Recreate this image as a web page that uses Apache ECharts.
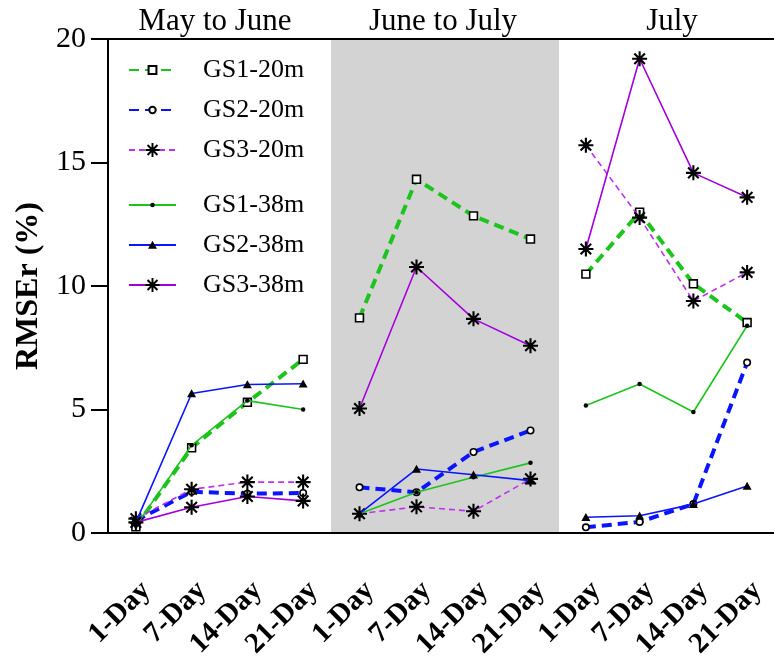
<!DOCTYPE html>
<html>
<head>
<meta charset="utf-8">
<script src="https://cdn.jsdelivr.net/npm/echarts@6/dist/echarts.min.js"></script>
<style>
  html, body { margin: 0; padding: 0; background: #fff; }
  #chart { width: 774px; height: 671px; }
</style>
</head>
<body>
<div id="chart"></div>
<script>
const days = ['1-Day', '7-Day', '14-Day', '21-Day']
const panelTitles = ['May to June', 'June to July', 'July']
const seriesNames = ['GS1-20m', 'GS2-20m', 'GS3-20m', 'GS1-38m', 'GS2-38m', 'GS3-38m']
const yTicks = [0, 5, 10, 15, 20]

// one row per panel: May to June, June to July, July
const gs1_20m = [[0.25, 3.45, 5.29, 7.03], [8.71, 14.32, 12.84, 11.9], [10.48, 12.99, 10.09, 8.52]]
const gs2_20m = [[0.5, 1.67, 1.59, 1.62], [1.85, 1.65, 3.28, 4.15], [0.23, 0.45, 1.17, 6.9]]
const gs3_20m = [[0.58, 1.77, 2.06, 2.06], [0.78, 1.06, 0.88, 2.19], [15.7, 12.77, 9.39, 10.55]]
const gs1_38m = [[0.29, 3.55, 5.36, 5.0], [0.78, 1.65, 2.26, 2.84], [5.16, 6.03, 4.9, 8.39]]
const gs2_38m = [[0.43, 5.65, 6.01, 6.04], [0.78, 2.59, 2.36, 2.12], [0.64, 0.7, 1.17, 1.9]]
const gs3_38m = [[0.43, 1.04, 1.48, 1.3], [5.04, 10.77, 8.67, 7.58], [11.5, 19.2, 14.58, 13.59]]

const serif = 'Liberation Serif'
const green = '#1cc41c'
const blue = '#0a14ff'
const purpleDash = '#c030f0'
const purple = '#a400dc'

// markers drawn inside a 20x20 box (the two lone moves keep the box), so the
// legend (box = 0.8 * itemHeight) and the plot show them at the same size
const box = 'path://M-10,-10M10,10'
const star = 'path://M-1.4,-10L1.4,-10L1.4,10L-1.4,10ZM-10,-1.4L10,-1.4L10,1.4L-10,1.4Z' +
  'M8.06,6.08L6.08,8.06L-8.06,-6.08L-6.08,-8.06Z' +
  'M6.08,-8.06L8.06,-6.08L-6.08,8.06L-8.06,6.08Z'
const square = box + 'M-5.6,-5.6L5.6,-5.6L5.6,5.6L-5.6,5.6Z'
const ring = box + 'M4.6,0A4.6,4.6,0,1,1,-4.6,0A4.6,4.6,0,1,1,4.6,0Z'
const dot = box + 'M3.2,0A3.2,3.2,0,1,1,-3.2,0A3.2,3.2,0,1,1,3.2,0Z'
const tri = box + 'M0,-6L6.4,5.4L-6.4,5.4Z'

// style for each of the six lines
const styles = [
  { data: gs1_20m, line: { color: green, width: 4, type: [10, 6] }, symbol: square, size: 14, item: { color: '#fff', borderColor: '#000', borderWidth: 1.6 } },
  { data: gs2_20m, line: { color: blue, width: 4, type: [10, 6] }, symbol: ring, size: 14, item: { color: '#fff', borderColor: '#000', borderWidth: 1.6 } },
  { data: gs3_20m, line: { color: purpleDash, width: 1.6, type: [6, 4] }, symbol: star, size: 15, item: { color: '#000' } },
  { data: gs1_38m, line: { color: green, width: 1.6, type: 'solid' }, symbol: dot, size: 14, item: { color: '#000' } },
  { data: gs2_38m, line: { color: blue, width: 1.6, type: 'solid' }, symbol: tri, size: 14, item: { color: '#000' } },
  { data: gs3_38m, line: { color: purple, width: 1.6, type: 'solid' }, symbol: star, size: 15, item: { color: '#000' } }
]

const gridBoxes = [
  { left: 108, width: 223 },
  { left: 331, width: 228 },
  { left: 559, width: 226 }
]
const titleX = [215, 443, 672]

const chart = echarts.init(document.getElementById('chart'))

const grids = gridBoxes.map((g, i) => ({
  left: g.left,
  width: g.width,
  top: 39,
  height: 494,
  show: i === 1,
  backgroundColor: '#d3d3d3',
  borderWidth: 0
}))

const xAxes = gridBoxes.map((g, i) => ({
  type: 'category',
  gridIndex: i,
  data: days,
  axisLine: { lineStyle: { color: '#000', width: 2 } },
  axisTick: { alignWithLabel: true, length: 17, lineStyle: { color: '#000', width: 2 } },
  axisLabel: {
    interval: 0,
    rotate: 45,
    margin: 43,
    verticalAlign: 'top',
    color: '#000',
    fontFamily: serif,
    fontWeight: 'bold',
    fontSize: 29
  }
}))

const yAxes = gridBoxes.map((g, i) => ({
  type: 'value',
  gridIndex: i,
  min: yTicks[0],
  max: yTicks[yTicks.length - 1],
  interval: 5,
  show: i === 0,
  name: i === 0 ? 'RMSEr (%)' : '',
  nameLocation: 'middle',
  nameGap: 63,
  nameTextStyle: { color: '#000', fontFamily: serif, fontWeight: 'bold', fontSize: 32 },
  splitLine: { show: false },
  axisLine: { show: true, lineStyle: { color: '#000', width: 2 } },
  axisTick: { show: true, length: 17, lineStyle: { color: '#000', width: 2 } },
  axisLabel: { margin: 22, color: '#000', fontFamily: serif, fontSize: 30 }
}))

const series = []
gridBoxes.forEach((g, p) => {
  styles.forEach((s, k) => {
    series.push({
      name: seriesNames[k],
      type: 'line',
      xAxisIndex: p,
      yAxisIndex: p,
      data: s.data[p],
      symbol: s.symbol,
      symbolSize: s.size,
      lineStyle: s.line,
      itemStyle: s.item,
      z: 2 + k
    })
  })
})

const legendBase = {
  orient: 'vertical',
  left: 128,
  padding: 0,
  itemWidth: 47,
  itemHeight: 17.5,
  itemGap: 14,
  textStyle: { color: '#000', fontFamily: serif, fontSize: 26, padding: [0, 0, 0, 22] }
}

const option = {
  animation: false,
  backgroundColor: '#fff',
  title: panelTitles.map((t, i) => ({
    text: t,
    left: titleX[i],
    top: 6,
    padding: 0,
    textAlign: 'center',
    textStyle: { color: '#000', fontFamily: serif, fontWeight: 'normal', fontSize: 31 }
  })),
  legend: [
    Object.assign({}, legendBase, { top: 57, data: seriesNames.slice(0, 3) }),
    Object.assign({}, legendBase, { top: 192, data: seriesNames.slice(3) })
  ],
  grid: grids,
  xAxis: xAxes,
  yAxis: yAxes,
  graphic: [
    {
      type: 'line',
      shape: { x1: 107, y1: 39, x2: 774, y2: 39 },
      style: { stroke: '#000', lineWidth: 2 },
      z: 100
    }
  ],
  series: series
}

chart.setOption(option)
</script>
</body>
</html>
